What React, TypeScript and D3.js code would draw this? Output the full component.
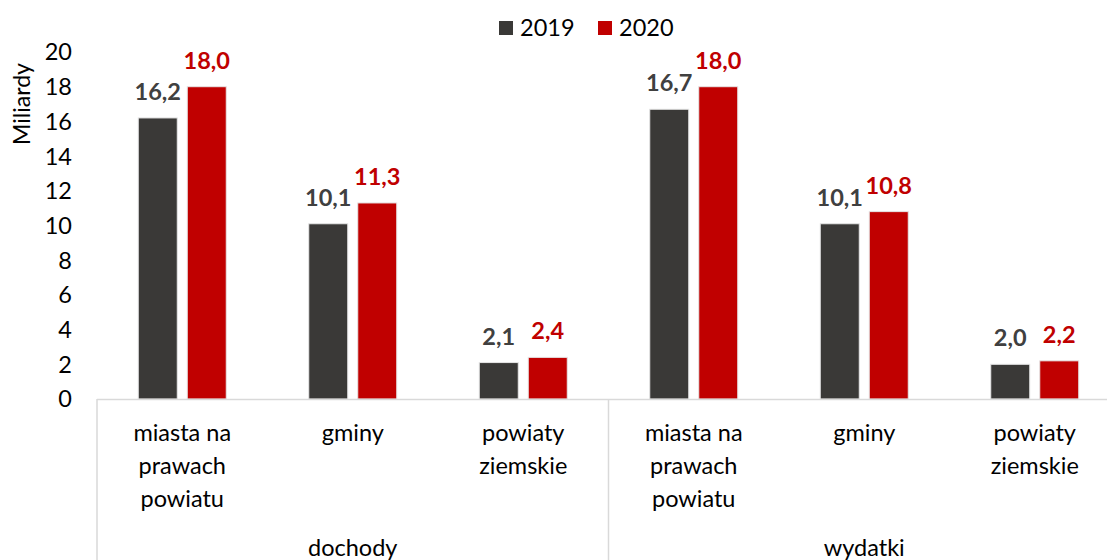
import React from "react";
import { scaleBand, scaleLinear, range } from "d3";

// dane (mld zł)
const categories = [
  ["miasta na", "prawach", "powiatu"],
  ["gminy"],
  ["powiaty", "ziemskie"],
  ["miasta na", "prawach", "powiatu"],
  ["gminy"],
  ["powiaty", "ziemskie"]
];
const groups = ["dochody", "wydatki"];
const seriesNames = ["2019", "2020"];
const values2019 = [16.2, 10.1, 2.1, 16.7, 10.1, 2.0];
const values2020 = [18.0, 11.3, 2.4, 18.0, 10.8, 2.2];
const yTicks = [0, 2, 4, 6, 8, 10, 12, 14, 16, 18, 20];

const barColors = ["#3a3937", "#c00000"];
const labelColors = ["#404040", "#c00000"];
const FONT = "Lato, 'Open Sans', sans-serif";

export default function App() {
  const width = 1107,
    height = 560;
  const plotLeft = 97,
    plotRight = 1120,
    plotTop = 52,
    plotBottom = 399;

  const x0 = scaleBand<number>()
    .domain(range(categories.length))
    .range([plotLeft, plotRight]);

  const x1 = scaleBand<string>()
    .domain(seriesNames)
    .range([0, 88])
    .paddingInner(10 / 49);

  const y = scaleLinear().domain([0, 20]).range([plotBottom, plotTop]);

  const series = [values2019, values2020];
  const fmt = (v: number) => v.toFixed(1).replace(".", ",");
  const groupWidth = x0.bandwidth() * 3;

  return (
    <svg
      width={width}
      height={height}
      style={{ position: "absolute", left: 0, top: 0, fontFamily: FONT }}
    >
      <rect width={width} height={height} fill="#fff" />

      {/* legenda */}
      {seriesNames.map((s, i) => (
        <g key={s} transform={`translate(${499 + i * 99}, 21)`}>
          <rect width={14} height={14} fill={barColors[i]} />
          <text x={21} y={7} dy="0.36em" fontSize={23.5} fill="#000">
            {s}
          </text>
        </g>
      ))}

      {/* oś Y */}
      {yTicks.map(t => (
        <text
          key={t}
          x={72}
          y={y(t)}
          dy="0.36em"
          textAnchor="end"
          fontSize={23.5}
          fill="#000"
        >
          {t}
        </text>
      ))}
      <text
        transform={`translate(22, 104) rotate(-90)`}
        textAnchor="middle"
        dy="0.36em"
        fontSize={23}
        fill="#000"
      >
        Miliardy
      </text>

      {/* słupki */}
      {categories.map((_, ci) => {
        const cx = x0(ci)! + x0.bandwidth() / 2 - 44;
        return (
          <g key={ci} transform={`translate(${cx}, 0)`}>
            {seriesNames.map((s, si) => {
              const v = series[si][ci];
              const bx = x1(s)!;
              return (
                <g key={s}>
                  <rect
                    x={bx}
                    y={y(v)}
                    width={x1.bandwidth()}
                    height={y(0) - y(v)}
                    fill={barColors[si]}
                    stroke="#e6e6e6"
                    strokeWidth={1}
                  />
                  <text
                    x={bx + x1.bandwidth() / 2}
                    y={y(v) - 18}
                    textAnchor="middle"
                    fontSize={23.5}
                    fontWeight="bold"
                    fill={labelColors[si]}
                  >
                    {fmt(v)}
                  </text>
                </g>
              );
            })}
          </g>
        );
      })}

      {/* oś X */}
      <line
        x1={plotLeft}
        x2={plotRight}
        y1={plotBottom + 0.5}
        y2={plotBottom + 0.5}
        stroke="#d9d9d9"
        strokeWidth={1.5}
      />
      {range(groups.length + 1).map(g => {
        const gx = plotLeft + g * groupWidth;
        return (
          <line
            key={g}
            x1={gx}
            x2={gx}
            y1={plotBottom}
            y2={height}
            stroke="#d9d9d9"
            strokeWidth={1.5}
          />
        );
      })}
      {categories.map((lines, ci) => (
        <text
          key={ci}
          x={x0(ci)! + x0.bandwidth() / 2}
          y={433}
          textAnchor="middle"
          fontSize={23.5}
          fill="#000"
        >
          {lines.map((l, li) => (
            <tspan
              key={li}
              x={x0(ci)! + x0.bandwidth() / 2}
              y={433 + li * 33}
              dy="0.36em"
            >
              {l}
            </tspan>
          ))}
        </text>
      ))}
      {groups.map((g, gi) => (
        <text
          key={g}
          x={plotLeft + gi * groupWidth + groupWidth / 2}
          y={548}
          dy="0.36em"
          textAnchor="middle"
          fontSize={23.5}
          fill="#000"
        >
          {g}
        </text>
      ))}
    </svg>
  );
}
